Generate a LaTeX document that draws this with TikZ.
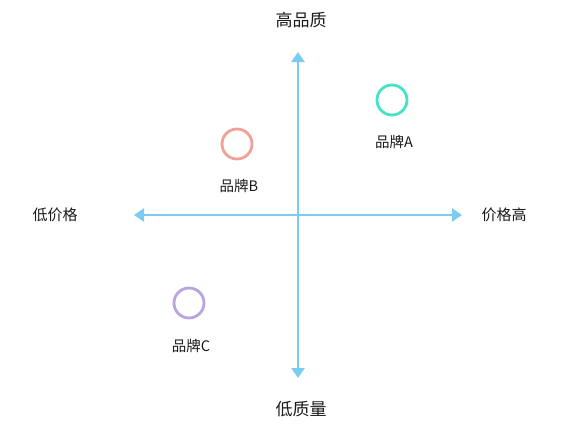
\documentclass[tikz,border=0pt]{standalone}
\usepackage{fontspec}
\setmainfont{Noto Sans CJK SC}
\usetikzlibrary{arrows.meta}
\definecolor{axisblue}{HTML}{7CCBF0}
\definecolor{cola}{HTML}{45E3C3}
\definecolor{colb}{HTML}{EFA195}
\definecolor{colc}{HTML}{B9A3E0}
\definecolor{txt}{HTML}{1A1A1A}
\begin{document}
\begin{tikzpicture}[x=1pt,y=-1pt,
  axis/.style={draw=axisblue,line width=2.6pt,-{Triangle[length=10pt,width=13pt]}},
  brand/.style={circle,draw,line width=2.8pt,minimum size=30pt,inner sep=0pt},
  biglab/.style={text=txt,font=\fontsize{17}{19}\selectfont,inner sep=0pt},
  sidelab/.style={text=txt,font=\fontsize{15}{17}\selectfont,inner sep=0pt},
  brandlab/.style={text=txt,font=\fontsize{14.5}{16}\selectfont,inner sep=0pt}]
\useasboundingbox[fill=white] (0,0) rectangle (568,439);
\coordinate (o) at (298,215);
\coordinate (top) at (298,52);
\coordinate (bot) at (298,378);
\coordinate (left) at (134,215);
\coordinate (right) at (462,215);
\draw[axis] (o) -- (top);
\draw[axis] (o) -- (bot);
\draw[axis] (o) -- (left);
\draw[axis] (o) -- (right);
\node[biglab] (hq) at (301,20) {高品质};
\node[biglab] (lq) at (301,409) {低质量};
\node[sidelab] (lp) at (55,215) {低价格};
\node[sidelab] (hp) at (504,215) {价格高};
\node[brand,draw=cola] (a) at (392,100) {};
\node[brand,draw=colb] (b) at (237,144) {};
\node[brand,draw=colc] (c) at (189,303) {};
\node[brandlab] (al) at (394,142) {品牌A};
\node[brandlab] (bl) at (239,186) {品牌B};
\node[brandlab] (cl) at (191,346) {品牌C};
\end{tikzpicture}
\end{document}
